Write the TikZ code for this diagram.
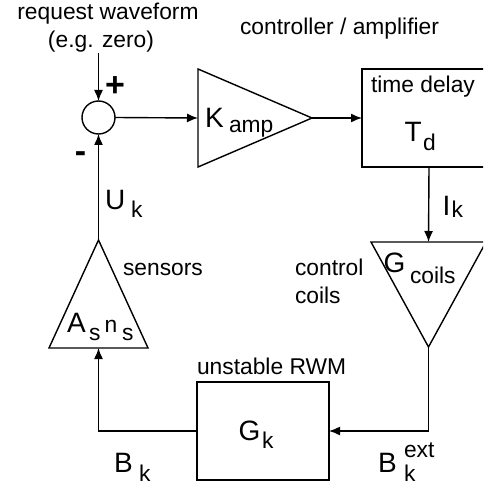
\documentclass[tikz,border=0pt]{standalone}
\usepackage{fontspec}
\setmainfont{Liberation Sans}
\usetikzlibrary{arrows.meta}
\begin{document}
\begin{tikzpicture}[x=0.5pt,y=-0.5pt, line width=0.7pt,
  txt/.style={inner sep=0pt, outer sep=0pt, anchor=base west, font=\fontsize{11.4pt}{13.7pt}\selectfont},
  ctxt/.style={txt, anchor=base},
  bigtxt/.style={txt, font=\fontsize{14pt}{16.8pt}\selectfont},
  sgn/.style={inner sep=0pt, outer sep=0pt, font=\fontsize{17pt}{20pt}\selectfont\bfseries},
  blk/.style={draw, inner sep=0pt, outer sep=0pt},
  arr/.style={-{Latex[length=5.5pt,width=4.5pt]}}]
\clip (0,0) rectangle (483,486);

% ---- blocks ----
\node[circle, blk, minimum size=16.5pt] (sum) at (98.5,117.5) {};
\coordinate (in) at (98.5,53);

\coordinate (amptop) at (198,69);
\coordinate (ampbot) at (198,167);
\coordinate (ampin) at (198,118);
\coordinate (ampout) at (312,118);
\draw (amptop) -- (ampbot) -- (ampout) -- cycle;

\node[blk, minimum width=67pt, minimum height=49pt] (delay) at (429,118) {};

\coordinate (coilL) at (371,242);
\coordinate (coilR) at (486,242);
\coordinate (coilin) at (428.5,242);
\coordinate (coilout) at (428.5,347);
\draw (coilL) -- (coilR) -- (coilout) -- cycle;

\coordinate (senapex) at (98.5,240);
\coordinate (senL) at (49,348);
\coordinate (senR) at (148,348);
\coordinate (senin) at (98.5,348);
\draw (senL) -- (senR) -- (senapex) -- cycle;

\node[blk, minimum width=66pt, minimum height=49pt] (gk) at (263,431) {};

% ---- connectors ----
\draw[arr] (in) -- (sum.north);
\draw[arr] (sum.east) -- (ampin);
\draw[arr] (ampout) -- (delay.west);
\draw[arr] (delay.south) -- (coilin);
\draw[arr] (coilout) |- (gk.east);
\draw[arr] (gk.west) -| (senin);
\draw[arr] (senapex) -- (sum.south);

% ---- labels ----
\node[ctxt] (req1) at (108,20) {request waveform};
\node[ctxt] (req2) at (101,48) {(e.g. zero)};
\node[ctxt] (ctrl) at (339.5,35) {controller / amplifier};
\node[sgn] (plus) at (115,86.5) {+};
\node[sgn] (minus) at (80.5,157) {-};

\node[bigtxt] (K) at (205,128) {K};
\node[txt] (Ksub) at (229,133) {amp};

\node[txt] (tdl) at (371,93) {time delay};
\node[bigtxt] (T) at (404.5,142) {T};
\node[txt] (Tsub) at (423,151) {d};

\node[bigtxt] (I) at (442.5,215) {I};
\node[txt] (Isub) at (451.5,217) {k};

\node[bigtxt] (U) at (105,209) {U};
\node[txt] (Usub) at (131,217) {k};

\node[txt] (ccl1) at (295,275) {control};
\node[txt] (ccl2) at (295,303) {coils};
\node[bigtxt] (Gc) at (383.5,272) {G};
\node[txt] (Gcsub) at (410,283) {coils};

\node[txt] (sens) at (123,275) {sensors};
\node[bigtxt] (A) at (67,332) {A};
\node[txt] (Asub) at (89,340) {s};
\node[txt] (n) at (104.5,332) {n};
\node[txt] (nsub) at (122,340) {s};

\node[txt] (rwm) at (197,374) {unstable RWM};
\node[bigtxt] (G) at (238.5,440) {G};
\node[txt] (Gsub) at (262,448) {k};

\node[bigtxt] (B) at (114,472) {B};
\node[txt] (Bsub) at (139,481) {k};

\node[bigtxt] (Be) at (378,472) {B};
\node[txt] (Besup) at (404,457) {ext};
\node[txt] (Besub) at (404,481) {k};
\end{tikzpicture}
\end{document}
